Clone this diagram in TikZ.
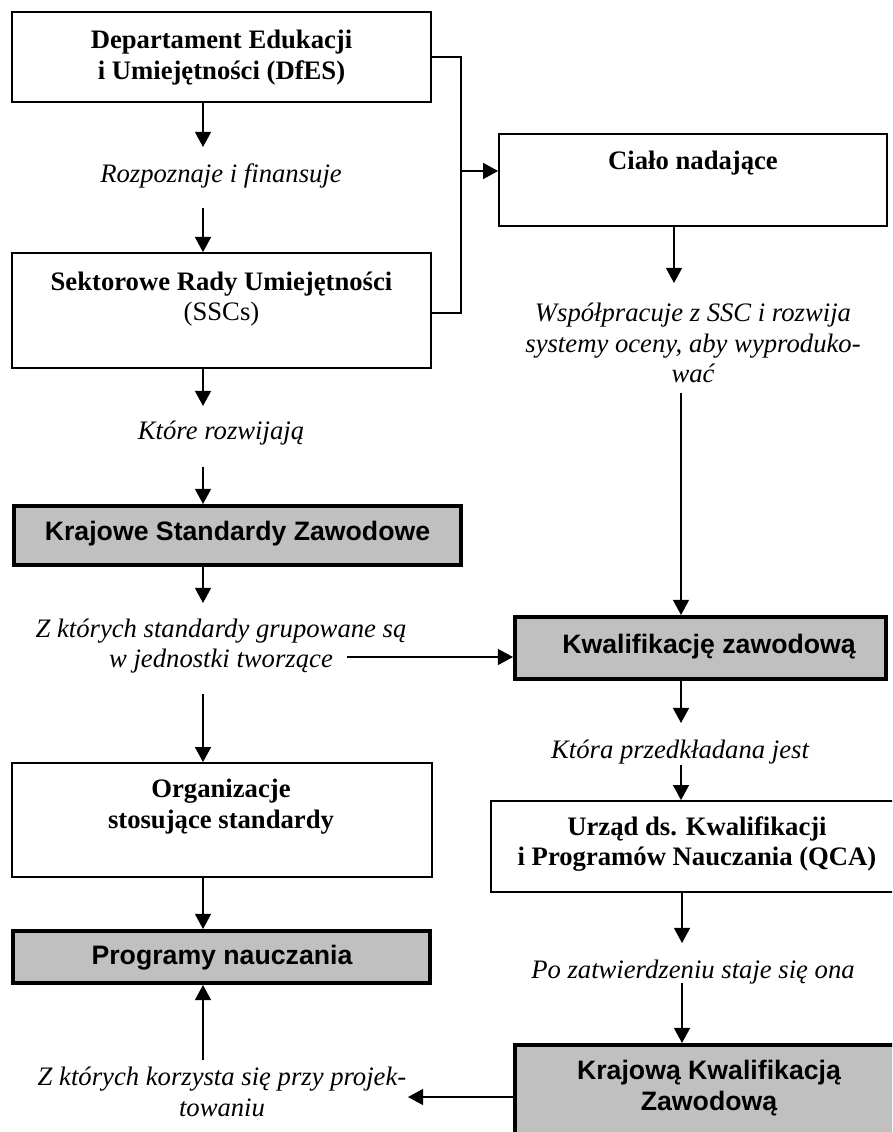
\documentclass[tikz,border=0pt]{standalone}
\usepackage{fontspec}
\setmainfont{Liberation Serif}
\newfontfamily\arialfont{Liberation Sans}
\usetikzlibrary{arrows.meta}
\definecolor{boxgrey}{RGB}{192,192,192}
\tikzset{
  txt/.style={font=\fontsize{12pt}{13.8pt}\selectfont, align=center, inner sep=0pt},
  boldtxt/.style={txt, font=\fontsize{12pt}{13.8pt}\selectfont\bfseries},
  itxt/.style={txt, font=\fontsize{12pt}{13.8pt}\selectfont\itshape},
  sanstxt/.style={txt, font=\fontsize{12pt}{13.8pt}\selectfont\arialfont\bfseries},
  whitebox/.style={draw=black, line width=0.8pt, fill=white, rectangle, inner sep=0pt},
  greybox/.style={draw=black, line width=1.8pt, fill=boxgrey, rectangle, inner sep=0pt},
  arr/.style={line width=0.7pt, -{Triangle[length=6.8pt,width=7.2pt]}},
  ln/.style={line width=0.7pt},
}
\begin{document}
\begin{tikzpicture}[x=0.45pt,y=-0.45pt]
\useasboundingbox (0,0) rectangle (892,1132);
\clip (0,0) rectangle (892,1132);
\fill[white] (0,0) rectangle (892,1132);

% boxes
\node[whitebox, minimum width=419*0.45pt, minimum height=90*0.45pt] (dfes) at (221.5,57) {};
\node[whitebox, minimum width=419*0.45pt, minimum height=115*0.45pt] (ssc) at (221.5,310.5) {};
\node[whitebox, minimum width=388*0.45pt, minimum height=92*0.45pt] (cialo) at (693,180) {};
\node[greybox, minimum width=447*0.45pt, minimum height=59*0.45pt] (ksz) at (237.5,535.5) {};
\node[greybox, minimum width=371*0.45pt, minimum height=62*0.45pt] (kwal) at (700.5,648) {};
\node[whitebox, minimum width=420*0.45pt, minimum height=114*0.45pt] (org) at (222,820) {};
\node[greybox, minimum width=417*0.45pt, minimum height=52*0.45pt] (prog) at (221.5,957) {};
\node[whitebox, minimum width=414*0.45pt, minimum height=91*0.45pt] (urzad) at (698,846.5) {};
\node[greybox, minimum width=390*0.45pt, minimum height=105*0.45pt] (kkz) at (710,1097.5) {};

% box texts
\node[boldtxt] (dfest) at (221.5,57.5) {Departament Edukacji\\i Umiejętności (DfES)};
\node[txt] (ssct) at (221.5,299) {\textbf{Sektorowe Rady Umiejętności}\\(SSCs)};
\node[boldtxt] (cialot) at (693,163) {Ciało nadające};
\node[sanstxt] (kszt) at (237.5,533.5) {Krajowe Standardy Zawodowe};
\node[sanstxt] (kwalt) at (709,647) {Kwalifikację zawodową};
\node[boldtxt] (orgt) at (221,806.5) {Organizacje\\stosujące standardy};
\node[boldtxt] (urzadt) at (697,844) {Urząd ds. Kwalifikacji\\i Programów Nauczania (QCA)};
\node[sanstxt] (progt) at (222,958) {Programy nauczania};
\node[sanstxt] (kkzt) at (709,1088) {Krajową Kwalifikacją\\Zawodową};

% labels
\node[itxt] (l1) at (221,176) {Rozpoznaje i finansuje};
\node[itxt] (l2) at (221,433) {Które rozwijają};
\node[itxt] (l3) at (221,646) {Z których standardy grupowane są\\w jednostki tworzące};
\node[itxt] (l4) at (222,1092) {Z których korzysta się przy projek-\\towaniu};
\node[itxt] (r1) at (693,343) {Współpracuje z SSC i rozwija\\systemy oceny, aby wyproduko-\\wać};
\node[itxt] (r2) at (680,752) {Która przedkładana jest};
\node[itxt] (r3) at (693,972) {Po zatwierdzeniu staje się ona};

% free ends
\coordinate (a1) at (203,147);
\coordinate (a2) at (203,208);
\coordinate (a3) at (203,406);
\coordinate (a4) at (203,467);
\coordinate (a5) at (203,603);
\coordinate (a6) at (347,657);
\coordinate (a7) at (203,694);
\coordinate (a8) at (203,1060);
\coordinate (a9) at (408,1097);
\coordinate (b1) at (461,57);
\coordinate (b2) at (461,313);
\coordinate (b3) at (461,171);
\coordinate (c1) at (674,283);
\coordinate (c2) at (681,393);
\coordinate (c3) at (681,723);
\coordinate (c4) at (681,765);
\coordinate (c5) at (682,943);
\coordinate (c6) at (682,983);

% left column arrows
\draw[arr] (dfes.south -| a1) -- (a1);
\draw[arr] (a2) -- (ssc.north -| a2);
\draw[arr] (ssc.south -| a3) -- (a3);
\draw[arr] (a4) -- (ksz.north -| a4);
\draw[arr] (ksz.south -| a5) -- (a5);
\draw[arr] (a6) -- (kwal.west |- a6);
\draw[arr] (a7) -- (org.north -| a7);
\draw[arr] (org.south -| a7) -- (prog.north -| a7);
\draw[arr] (a8) -- (prog.south -| a8);
\draw[arr] (kkz.west |- a9) -- (a9);

% bracket
\draw[ln] (dfes.east |- b1) -- (b1) -- (b2) -- (ssc.east |- b2);
\draw[arr] (b3) -- (cialo.west |- b3);

% right column arrows
\draw[arr] (cialo.south -| c1) -- (c1);
\draw[arr] (c2) -- (kwal.north -| c2);
\draw[arr] (kwal.south -| c3) -- (c3);
\draw[arr] (c4) -- (urzad.north -| c4);
\draw[arr] (urzad.south -| c5) -- (c5);
\draw[arr] (c6) -- (kkz.north -| c6);
\end{tikzpicture}
\end{document}
